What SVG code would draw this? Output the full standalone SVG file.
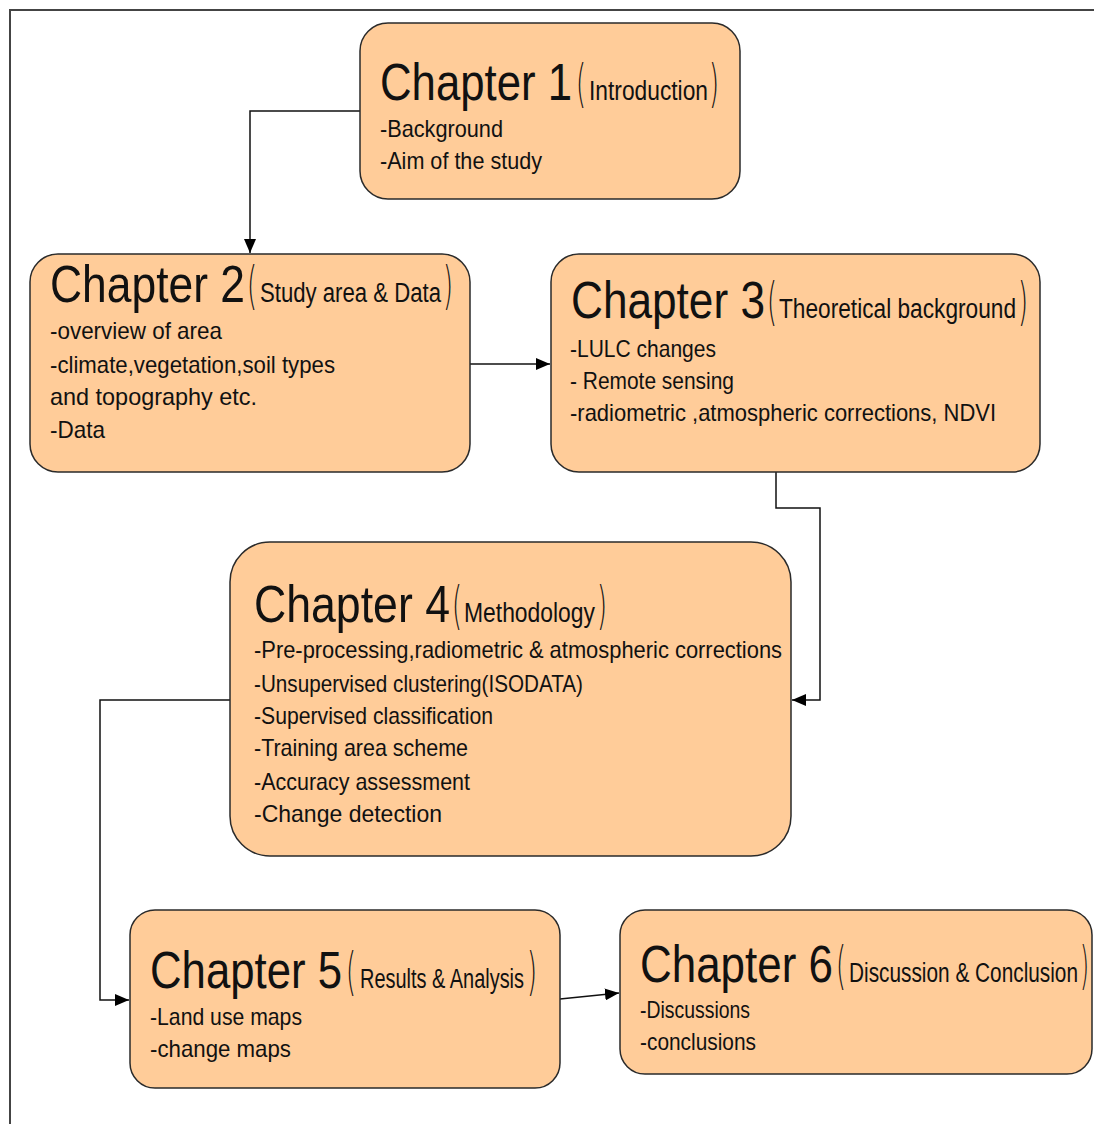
<svg xmlns="http://www.w3.org/2000/svg" width="1094" height="1124" viewBox="0 0 1094 1124">
<style>
.box{fill:#FFCC99;stroke:#2a2a2a;stroke-width:1.5}
.t{font-family:"Liberation Sans",Arial,sans-serif;fill:#111}
.title{font-size:52px}
.sub{font-size:27px}
.par{font-family:"DejaVu Sans",sans-serif;font-weight:200;font-size:52px;fill:#111}
.body{font-size:24px}
.conn{fill:none;stroke:#111;stroke-width:1.5}
</style>
<defs>
<marker id="ah" viewBox="0 0 14 12" refX="14" refY="6" markerWidth="14" markerHeight="12" markerUnits="userSpaceOnUse" orient="auto">
<path d="M0,0 L14,6 L0,12 Z" fill="#000"/>
</marker>
</defs>
<rect width="1094" height="1124" fill="#fff"/>
<path d="M10,1124 V10 H1094" fill="none" stroke="#444" stroke-width="2"/>

<g id="connectors">
<path class="conn" d="M360,111 H250 V253" marker-end="url(#ah)"/>
<path class="conn" d="M470,364 H550" marker-end="url(#ah)"/>
<path class="conn" d="M776,472 V508 H820 V700 H792" marker-end="url(#ah)"/>
<path class="conn" d="M230,700 H100 V1000 H129" marker-end="url(#ah)"/>
<path class="conn" d="M560,999 L619,993" marker-end="url(#ah)"/>
</g>

<g id="ch1">
<rect class="box" x="360" y="23" width="380" height="176" rx="28"/>
<text class="t title" x="380" y="100" textLength="192" lengthAdjust="spacingAndGlyphs">Chapter 1</text>
<text class="par" x="576" y="101" textLength="10" lengthAdjust="spacingAndGlyphs">(</text>
<text class="t sub" x="589" y="100" textLength="119" lengthAdjust="spacingAndGlyphs">Introduction</text>
<text class="par" x="709" y="101" textLength="10" lengthAdjust="spacingAndGlyphs">)</text>
<text class="t body" x="380" y="137" textLength="123" lengthAdjust="spacingAndGlyphs">-Background</text>
<text class="t body" x="380" y="169" textLength="162" lengthAdjust="spacingAndGlyphs">-Aim of the study</text>
</g>

<g id="ch2">
<rect class="box" x="30" y="254" width="440" height="218" rx="28"/>
<text class="t title" x="50" y="302" textLength="195" lengthAdjust="spacingAndGlyphs">Chapter 2</text>
<text class="par" x="247" y="303" textLength="10" lengthAdjust="spacingAndGlyphs">(</text>
<text class="t sub" x="260" y="302" textLength="181" lengthAdjust="spacingAndGlyphs">Study area &amp; Data</text>
<text class="par" x="443" y="303" textLength="10" lengthAdjust="spacingAndGlyphs">)</text>
<text class="t body" x="50" y="339" textLength="172" lengthAdjust="spacingAndGlyphs">-overview of area</text>
<text class="t body" x="50" y="373" textLength="285" lengthAdjust="spacingAndGlyphs">-climate,vegetation,soil types</text>
<text class="t body" x="50" y="405" textLength="207" lengthAdjust="spacingAndGlyphs">and topography etc.</text>
<text class="t body" x="50" y="438" textLength="55" lengthAdjust="spacingAndGlyphs">-Data</text>
</g>

<g id="ch3">
<rect class="box" x="551" y="254" width="489" height="218" rx="28"/>
<text class="t title" x="571" y="318" textLength="194" lengthAdjust="spacingAndGlyphs">Chapter 3</text>
<text class="par" x="767" y="319" textLength="10" lengthAdjust="spacingAndGlyphs">(</text>
<text class="t sub" x="779" y="318" textLength="237" lengthAdjust="spacingAndGlyphs">Theoretical background</text>
<text class="par" x="1018" y="319" textLength="10" lengthAdjust="spacingAndGlyphs">)</text>
<text class="t body" x="570" y="357" textLength="146" lengthAdjust="spacingAndGlyphs">-LULC changes</text>
<text class="t body" x="570" y="389" textLength="164" lengthAdjust="spacingAndGlyphs">- Remote sensing</text>
<text class="t body" x="570" y="421" textLength="426" lengthAdjust="spacingAndGlyphs">-radiometric ,atmospheric corrections, NDVI</text>
</g>

<g id="ch4">
<rect class="box" x="230" y="542" width="561" height="314" rx="40"/>
<text class="t title" x="254" y="622" textLength="196" lengthAdjust="spacingAndGlyphs">Chapter 4</text>
<text class="par" x="452" y="623" textLength="10" lengthAdjust="spacingAndGlyphs">(</text>
<text class="t sub" x="464" y="622" textLength="131" lengthAdjust="spacingAndGlyphs">Methodology</text>
<text class="par" x="597" y="623" textLength="10" lengthAdjust="spacingAndGlyphs">)</text>
<text class="t body" x="254" y="658" textLength="528" lengthAdjust="spacingAndGlyphs">-Pre-processing,radiometric &amp; atmospheric corrections</text>
<text class="t body" x="254" y="692" textLength="329" lengthAdjust="spacingAndGlyphs">-Unsupervised clustering(ISODATA)</text>
<text class="t body" x="254" y="724" textLength="239" lengthAdjust="spacingAndGlyphs">-Supervised classification</text>
<text class="t body" x="254" y="756" textLength="214" lengthAdjust="spacingAndGlyphs">-Training area scheme</text>
<text class="t body" x="254" y="790" textLength="216" lengthAdjust="spacingAndGlyphs">-Accuracy assessment</text>
<text class="t body" x="254" y="822" textLength="188" lengthAdjust="spacingAndGlyphs">-Change detection</text>
</g>

<g id="ch5">
<rect class="box" x="130" y="910" width="430" height="178" rx="25"/>
<text class="t title" x="150" y="988" textLength="192" lengthAdjust="spacingAndGlyphs">Chapter 5</text>
<text class="par" x="346" y="989" textLength="10" lengthAdjust="spacingAndGlyphs">(</text>
<text class="t sub" x="360" y="988" textLength="164" lengthAdjust="spacingAndGlyphs">Results &amp; Analysis</text>
<text class="par" x="527" y="989" textLength="10" lengthAdjust="spacingAndGlyphs">)</text>
<text class="t body" x="150" y="1025" textLength="152" lengthAdjust="spacingAndGlyphs">-Land use maps</text>
<text class="t body" x="150" y="1057" textLength="141" lengthAdjust="spacingAndGlyphs">-change maps</text>
</g>

<g id="ch6">
<rect class="box" x="620" y="910" width="472" height="164" rx="25"/>
<text class="t title" x="640" y="982" textLength="193" lengthAdjust="spacingAndGlyphs">Chapter 6</text>
<text class="par" x="836" y="983" textLength="10" lengthAdjust="spacingAndGlyphs">(</text>
<text class="t sub" x="849" y="982" textLength="229" lengthAdjust="spacingAndGlyphs">Discussion &amp; Conclusion</text>
<text class="par" x="1080" y="983" textLength="9" lengthAdjust="spacingAndGlyphs">)</text>
<text class="t body" x="640" y="1018" textLength="110" lengthAdjust="spacingAndGlyphs">-Discussions</text>
<text class="t body" x="640" y="1050" textLength="116" lengthAdjust="spacingAndGlyphs">-conclusions</text>
</g>
</svg>
